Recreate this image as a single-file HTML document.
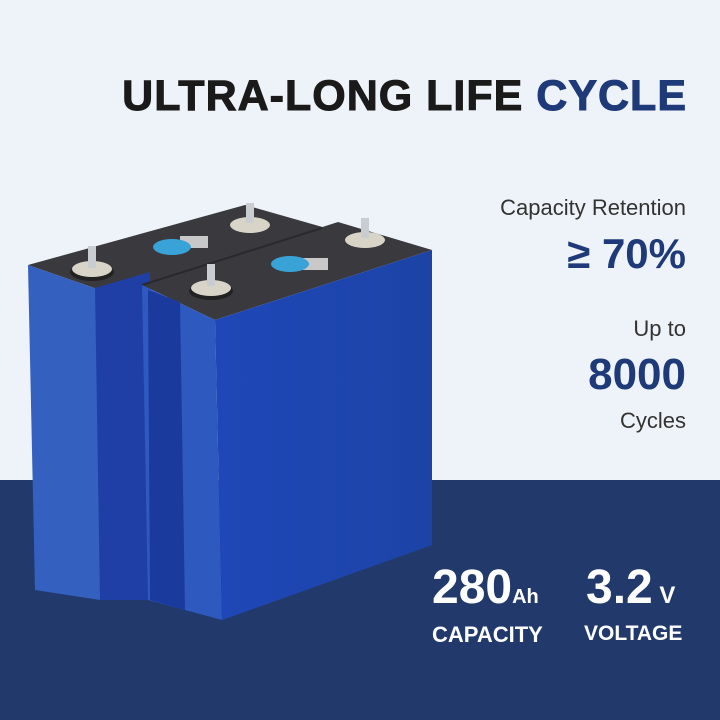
<!DOCTYPE html>
<html><head><meta charset="utf-8"><style>
body{margin:0;width:720px;height:720px;overflow:hidden;position:relative;background:#eef3f9;font-family:"Liberation Sans",sans-serif;}
.bot{position:absolute;left:0;top:480px;width:720px;height:240px;background:#22396b;}
.t{position:absolute;font-weight:bold;white-space:nowrap;}
</style></head><body>
<div class="bot"></div>
<svg width="720" height="720" style="position:absolute;left:0;top:0">
<defs>
<linearGradient id="g2" x1="0" x2="1"><stop offset="0" stop-color="#1f47b8"/><stop offset="1" stop-color="#1c44a6"/></linearGradient>
</defs>
<polygon points="28,265 245,205 340,232 142,292 100,290" fill="#3a3a3e"/>
<polygon points="28,265 100,290 100,600 35,590" fill="#3460bf"/>
<polygon points="95,288 150,272 150,600 100,600" fill="#1f3fa6"/>
<polygon points="142,285 338,222 432,250 215,320" fill="#3a3a3e"/>
<line x1="142" y1="285" x2="322" y2="228" stroke="#2a2a2e" stroke-width="2"/>
<polygon points="142,285 215,320 222,620 148,600" fill="#2e59bf"/>
<polygon points="148,290 180,302 185,610 150,600" fill="#1a3a9e"/>
<polygon points="215,320 432,250 432,545 222,620" fill="url(#g2)"/>
<g fill="#d8d4c8"><ellipse cx="92" cy="272" rx="22" ry="9" fill="#222"/><ellipse cx="92" cy="269" rx="20" ry="8"/><rect x="88" y="246" width="8" height="22" fill="#c9ccd0"/>
<ellipse cx="250" cy="225" rx="20" ry="8"/><rect x="246" y="203" width="8" height="20" fill="#c9ccd0"/>
<ellipse cx="211" cy="291" rx="22" ry="9" fill="#222"/><ellipse cx="211" cy="288" rx="20" ry="8"/><rect x="207" y="264" width="8" height="22" fill="#c9ccd0"/>
<ellipse cx="365" cy="240" rx="20" ry="8"/><rect x="361" y="218" width="8" height="20" fill="#c9ccd0"/></g>
<rect x="180" y="236" width="28" height="12" fill="#c8c8c8"/>
<ellipse cx="172" cy="247" rx="19" ry="8" fill="#39a3d8"/>
<rect x="300" y="258" width="28" height="12" fill="#c8c8c8"/>
<ellipse cx="290" cy="264" rx="19" ry="8" fill="#39a3d8"/>
</svg>
<div class="t" style="right:33px;top:72px;font-size:43px;letter-spacing:1px;color:#1a1a1a;-webkit-text-stroke:1px #1a1a1a">ULTRA-LONG LIFE <span style="color:#1f3a78;-webkit-text-stroke:1px #1f3a78">CYCLE</span></div>
<div class="t" style="right:34px;top:195px;font-size:22px;color:#333;font-weight:normal">Capacity Retention</div>
<div class="t" style="right:34px;top:230px;font-size:42px;color:#1f3a78">≥ 70%</div>
<div class="t" style="right:34px;top:316px;font-size:22px;color:#333;font-weight:normal">Up to</div>
<div class="t" style="right:34px;top:350px;font-size:44px;color:#1f3a78">8000</div>
<div class="t" style="right:34px;top:408px;font-size:22px;color:#333;font-weight:normal">Cycles</div>
<div class="t" style="left:432px;top:560px;font-size:48px;color:#fff">280<span style="font-size:20px">Ah</span></div>
<div class="t" style="left:586px;top:560px;font-size:48px;color:#fff">3.2<span style="font-size:24px"> V</span></div>
<div class="t" style="left:432px;top:622px;font-size:22px;color:#fff">CAPACITY</div>
<div class="t" style="left:584px;top:622px;font-size:21px;color:#fff">VOLTAGE</div>
</body></html>
